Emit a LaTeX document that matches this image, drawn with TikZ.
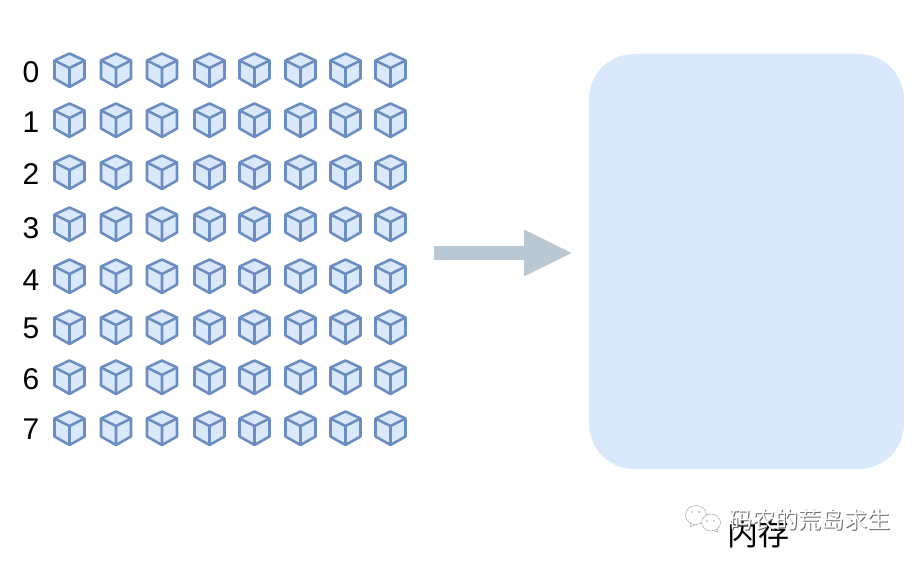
\documentclass[tikz,border=0pt]{standalone}
\usepackage{fontspec}
\setmainfont{Liberation Sans}
\newfontfamily\cjk{Noto Sans CJK SC}
\usetikzlibrary{arrows.meta}
\definecolor{cubefill}{HTML}{DAE8FC}
\definecolor{cubeline}{HTML}{6C8EBF}
\definecolor{arrowcol}{HTML}{BAC8D3}
\tikzset{
    rowlabel/.style = {align=center, inner sep=0pt, text centered, black, font=\fontsize{30}{30}\selectfont},
    memory/.style = {draw=none, fill=cubefill, rounded corners=45pt, minimum width=315pt, minimum height=415pt, inner sep=0pt},
    memlabel/.style = {inner sep=0pt, black, font=\fontsize{31}{31}\selectfont\cjk},
    mark_text/.style = {inner sep=0pt, font=\fontsize{23}{23}\selectfont\cjk},
    bubble/.style = {draw=black!35, fill=white, line width=0.5pt},
    bigarrow/.style = {draw=arrowcol, line width=13pt, -{Triangle[length=49pt,width=43pt]}},
    cube/.pic = {
        \draw [draw=cubeline, fill=cubefill, line width=2.6pt, line join=round]
            (0,-16.5) -- (15,-9.5) -- (15,8.5) -- (0,17) -- (-15,8.5) -- (-15,-9.5) -- cycle;
        \draw [draw=cubeline, line width=2.6pt, line join=round]
            (-15,-9.5) -- (0,-2) -- (15,-9.5) (0,-2) -- (0,17);
    }
}
\begin{document}
\begin{tikzpicture}[x=1pt, y=-1pt]
    \useasboundingbox (0,0) rectangle (920,561);

    % rows of cubes
    \foreach \i/\ypos/\ylabel in {0/70/72, 1/120/122, 2/172/174, 3/224/228, 4/276/280, 5/327/328, 6/377/379, 7/428/429} {
        \node [rowlabel] (row\i) at (31,\ylabel) {\i};
        \foreach \j/\xpos in {0/69.5, 1/116, 2/162, 3/209.5, 4/254.5, 5/300.5, 6/345.5, 7/390.5} {
            \pic (cube\i\j) at (\xpos,\ypos) {cube};
        }
    }

    % memory
    \node [memory] (mem) at (746.5,261.5) {};
    \node [memlabel] (memname) at (758,534) {内存};

    \coordinate (src) at (434,253);
    \coordinate (dst) at (573,253);
    \draw [bigarrow] (src) -- (dst);

    % watermark
    \draw [bubble] (690,527) -- (691,521) -- (697,524) -- cycle;
    \draw [bubble] (696,515) ellipse (10.5pt and 9.5pt);
    \draw [bubble] (718,532) -- (717,527) -- (712,530) -- cycle;
    \draw [bubble] (711,522.5) ellipse (9.5pt and 8.5pt);
    \foreach \ex/\ey in {692/512, 699/512, 707/521, 714/521} {
        \fill [black!35] (\ex,\ey) circle (0.8pt);
    }
    \node [mark_text, text=black!60] (markshadow) at (810.5,520.5) {码农的荒岛求生};
    \node [mark_text, text=white] (mark) at (810,520) {码农的荒岛求生};
\end{tikzpicture}
\end{document}
